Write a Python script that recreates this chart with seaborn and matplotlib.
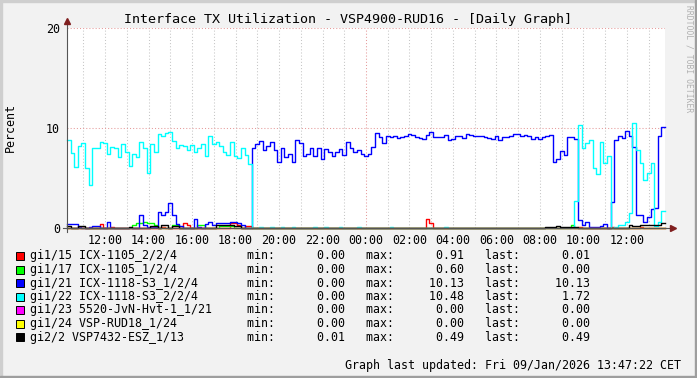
import numpy as np
import pandas as pd
import matplotlib
matplotlib.use("Agg")
import matplotlib.pyplot as plt
import seaborn as sns
from matplotlib.patches import Rectangle

# samples every 10 min, time in hours relative to midnight (10:15 -> 13:45)
t_start = -13.75
step_h = 1 / 6
n_pts = 165

names = ["gi1/15 ICX-1105_2/2/4", "gi1/17 ICX-1105_1/2/4", "gi1/21 ICX-1118-S3_1/2/4",
         "gi1/22 ICX-1118-S3_2/2/4", "gi1/23 5520-JvN-Hvt-1_1/21", "gi1/24 VSP-RUD18_1/24",
         "gi2/2 VSP7432-ESZ_1/13"]
colors = ["#ff0000", "#00ff00", "#0000ff", "#00ffff", "#ff00ff", "#ffff00", "#000000"]
mins = [0.00, 0.00, 0.00, 0.00, 0.00, 0.00, 0.01]
maxs = [0.91, 0.60, 10.13, 10.48, 0.00, 0.00, 0.49]
lasts = [0.01, 0.00, 10.13, 1.72, 0.00, 0.00, 0.49]

# gi1/22 (cyan)
cyan_day = [8.8, 7.5, 6.1, 8.2, 8.5, 6.0, 4.3, 8.0, 8.0, 8.6,
            8.5, 7.4, 8.1, 8.0, 7.1, 8.4, 7.6, 6.2, 7.4, 7.1,
            8.6, 8.0, 5.5, 8.4, 7.6, 9.4, 9.2, 9.5, 9.6, 8.7,
            8.0, 8.3, 8.2, 7.8, 8.3, 7.6, 8.0, 8.4, 7.2, 9.2,
            8.4, 8.6, 8.2, 7.6, 7.3, 8.6, 7.2, 7.0, 8.0, 7.3, 6.4]
cyan_late = [0.0, 2.7, 10.3, 8.0, 8.5, 8.8, 6.0, 5.4, 8.6, 6.5,
             7.2, 0.0, 0.1, 0.3, 0.3, 0.6, 1.5, 10.48, 7.8, 6.5,
             4.8, 5.5, 6.5, 0.2, 0.6, 1.72]
cyan_blips = {53: 0.15, 56: 0.15, 59: 0.15, 62: 0.15, 68: 0.15, 71: 0.15,
              75: 0.15, 80: 0.15, 89: 0.12, 104: 0.12}

# gi1/21 (blue)
blue_day = [0.4, 0.4, 0.4, 0.1, 0.05, 0.05, 0.1, 0.2, 0.2, 0.05,
            0.05, 0.6, 0.05, 0.05, 0.05, 0.05, 0.05, 0.05, 0.05, 0.05,
            1.3, 0.3, 0.1, 0.1, 0.1, 1.6, 1.3, 1.6, 2.5, 1.3,
            0.4, 0.2, 0.05, 0.05, 0.05, 0.9, 0.1, 0.05, 0.4, 0.6,
            0.3, 0.5, 0.5, 0.5, 0.5, 0.6, 0.6, 0.5, 0.3, 0.0, 0.0]
blue_night = [8.0, 8.4, 8.7, 7.8,
              8.2, 8.6, 7.8, 6.6, 8.0, 7.1, 7.4, 6.6, 8.8, 8.5,
              7.2, 7.4, 8.0, 7.2, 8.0, 6.9, 7.9, 7.6, 7.2, 7.6,
              7.9, 7.3, 8.6, 8.0, 7.6, 7.8, 7.4, 7.2,
              7.4, 8.1, 9.5, 9.1, 8.5, 9.2, 9.1, 9.2, 9.0, 9.1,
              9.2, 9.4, 9.3, 9.1, 9.0, 8.9, 9.3, 9.6, 9.1, 9.1,
              9.1, 9.3, 8.8, 8.9, 9.2, 9.2, 9.0, 9.4,
              9.3, 9.2, 9.2, 9.2, 9.1, 9.0, 8.9, 9.2, 8.8, 9.1,
              9.1, 9.2, 9.4, 9.4, 9.2, 9.3, 9.2, 8.9, 9.1, 8.9,
              9.1, 9.2, 9.3, 6.6, 6.9, 7.7, 7.3, 9.1]
blue_late = [9.1, 8.9, 0.8, 0.3, 0.6, 0.1, 0.1, 0.15, 0.25, 0.4,
             0.05, 2.6, 8.8, 9.2, 9.0, 9.7, 9.2, 8.1, 1.3, 1.3,
             0.6, 1.1, 1.9, 2.0, 9.2, 10.13]

# small series: readings where they leave the baseline
red_bumps = {9: 0.4, 12: 0.1, 26: 0.1, 32: 0.5, 33: 0.3, 45: 0.5, 46: 0.5, 47: 0.35,
             49: 0.2, 50: 0.2, 99: 0.91, 100: 0.55, 141: 0.15, 150: 0.1, 158: 0.1, 164: 0.01}
green_bumps = {18: 0.3, 19: 0.5, 20: 0.5, 21: 0.6, 22: 0.55, 23: 0.55, 24: 0.35,
               29: 0.3, 30: 0.3, 36: 0.3, 37: 0.3, 42: 0.2, 43: 0.2, 44: 0.2, 45: 0.2,
               139: 0.35}
black_base = 0.02
black_bumps = {0: 0.2, 3: 0.25, 4: 0.25, 17: 0.15, 23: 0.2, 24: 0.2, 26: 0.3, 27: 0.28,
               29: 0.25, 30: 0.25, 41: 0.3, 42: 0.3, 43: 0.3, 44: 0.3, 45: 0.3, 46: 0.2,
               47: 0.2, 132: 0.1, 133: 0.1, 134: 0.1, 135: 0.2, 136: 0.1, 137: 0.1,
               138: 0.1, 139: 0.1, 140: 0.1, 155: 0.3, 156: 0.25, 157: 0.25, 158: 0.3,
               159: 0.35, 160: 0.35, 161: 0.3, 162: 0.3, 163: 0.3, 164: 0.49}

hour_lines = list(range(-13, 14))
hour_ticks = [-12, -10, -8, -6, -4, -2, 0, 2, 4, 6, 8, 10, 12]
hour_labels = ["12:00", "14:00", "16:00", "18:00", "20:00", "22:00", "00:00",
               "02:00", "04:00", "06:00", "08:00", "10:00", "12:00"]


def from_bumps(bumps, base=0.0):
    vals = [base] * n_pts
    for k, v in bumps.items():
        vals[k] = v
    return vals


cyan = cyan_day + [0.0] * 88 + cyan_late
for k, v in cyan_blips.items():
    cyan[k] = v
blue = blue_day + blue_night + blue_late
series = [from_bumps(red_bumps), from_bumps(green_bumps), blue, cyan,
          [0.0] * n_pts, [0.0] * n_pts, from_bumps(black_bumps, black_base)]

frames = []
for name, vals in zip(names, series):
    t = t_start + np.arange(n_pts + 1) * step_h
    frames.append(pd.DataFrame({"t": t, "v": vals + [vals[-1]], "name": name}))
df = pd.concat(frames, ignore_index=True)

mono = "DejaVu Sans Mono"
plt.rcParams["font.family"] = mono

W, H = 697, 378
fig = plt.figure(figsize=(W / 100, H / 100), dpi=100, facecolor="#f2f2f2")
ax = fig.add_axes([67 / W, 150 / H, 598 / W, 200 / H])
ax.set_facecolor("white")

for h in hour_lines:
    c = "#e59a9a" if h == 0 else "#c6c6c6"
    ax.axvline(h, color=c, lw=0.75, ls=(0, (1, 2)), zorder=0)
for yv in [10, 20]:
    ax.axhline(yv, color="#e59a9a", lw=0.75, ls=(0, (1, 2)), zorder=0)

sns.lineplot(data=df, x="t", y="v", hue="name", hue_order=names, palette=colors,
             estimator=None, drawstyle="steps-post", legend=False, lw=1.0,
             ax=ax, clip_on=False)

ax.set_xlim(t_start, t_start + n_pts * step_h)
ax.set_ylim(0, 20)
ax.set_xticks(hour_ticks, hour_labels)
ax.set_yticks([0, 10, 20], ["0", "10", "20"])
ax.tick_params(axis="x", length=0, pad=4, labelsize=8.4)
ax.tick_params(axis="y", length=0, pad=5, labelsize=8.4)
ax.set_xlabel("")
ax.set_ylabel("")
for s in ax.spines.values():
    s.set_visible(False)

# axes with arrow heads
ax.plot([-0.007, 1.012], [0, 0], transform=ax.transAxes, color="#555555", lw=0.8,
        clip_on=False, zorder=5)
ax.plot([0, 0], [-0.02, 1.03], transform=ax.transAxes, color="#555555", lw=0.8,
        clip_on=False, zorder=5)
ax.plot([1.014], [0], marker=">", ms=4.5, color="#801f1f", transform=ax.transAxes,
        clip_on=False, zorder=6)
ax.plot([0], [1.035], marker="^", ms=4.5, color="#801f1f", transform=ax.transAxes,
        clip_on=False, zorder=6)

fig.text(348 / W, 1 - 19 / H, "Interface TX Utilization - VSP4900-RUD16 - [Daily Graph]",
         ha="center", va="center", fontsize=9.6)
fig.text(10 / W, 1 - 128 / H, "Percent", rotation=90, ha="center", va="center", fontsize=8.4)
fig.text(689 / W, 1 - 5 / H, "RRDTOOL / TOBI OETIKER", rotation=270, ha="center", va="top",
         fontsize=5.8, color="#b0b0b0")

for k, (name, c, mn, mx, la) in enumerate(zip(names, colors, mins, maxs, lasts)):
    yc = 256 + k * 13.5
    fig.add_artist(Rectangle((16 / W, 1 - (yc + 4) / H), 8 / W, 8 / H, facecolor=c,
                             edgecolor="black", lw=0.7, transform=fig.transFigure))
    row = f"{name:<31}min:{mn:10.2f}   max:{mx:10.2f}   last:{la:10.2f}"
    fig.text(30 / W, 1 - yc / H, row, ha="left", va="center", fontsize=8.4)

fig.text(681 / W, 1 - 365 / H, "Graph last updated: Fri 09/Jan/2026 13:47:22 CET",
         ha="right", va="center", fontsize=8.4)

# shaded frame
fig.add_artist(Rectangle((0, 1 - 2 / H), 1, 2 / H, color="#cfcfcf", transform=fig.transFigure))
fig.add_artist(Rectangle((0, 0), 2 / W, 1, color="#cfcfcf", transform=fig.transFigure))
fig.add_artist(Rectangle((0, 0), 1, 2 / H, color="#9e9e9e", transform=fig.transFigure))
fig.add_artist(Rectangle((1 - 2 / W, 0), 2 / W, 1, color="#9e9e9e", transform=fig.transFigure))

fig.savefig("out.png", dpi=100, facecolor=fig.get_facecolor())
